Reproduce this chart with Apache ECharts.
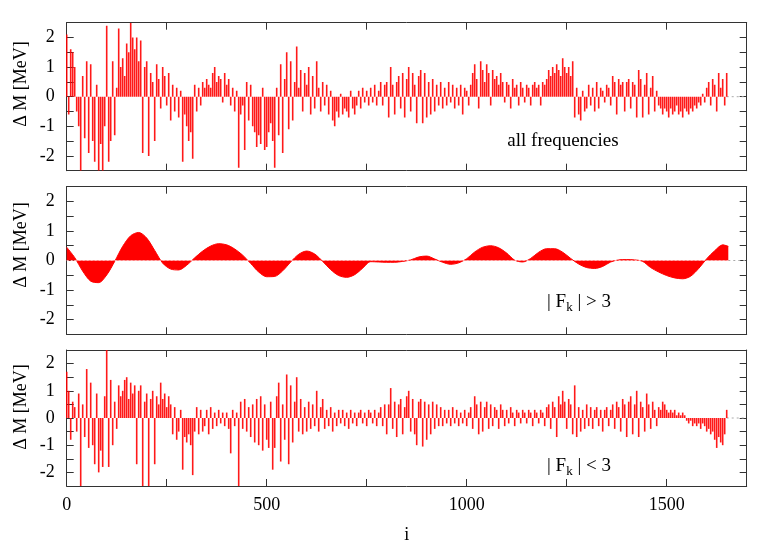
<!DOCTYPE html>
<html><head><meta charset="utf-8">
<script src="https://cdn.jsdelivr.net/npm/echarts@6/dist/echarts.min.js"></script>
<style>html,body{margin:0;padding:0;background:#fff}#c{width:780px;height:545px}</style>
</head><body><div id="c"></div>
<script>
// x index step for the impulse panels
const step = 5;
const xMin = 0, xMax = 1700;
const yMin = -2.5, yMax = 2.5;
const xTickLabels = [0, 500, 1000, 1500];
const yTickLabels = [-2, -1, 0, 1, 2];
const panelTexts = ['all frequencies', '| F{k|k} | > 3', '| F{k|k} | < 3'];
const yLabel = 'Δ M [MeV]';
const xLabel = 'i';

// all frequencies (i = 0,5,...,1650)
const allFreq = [
 2.1,-0.6,1.6,1.5,1.0,-0.5,-1.0,-2.5,0.7,-1.4,
 1.2,-1.9,1.1,-1.5,-2.2,0.4,-2.5,-1.6,-2.5,-1.0,
 2.4,-2.2,-1.5,1.2,-1.3,0.3,2.3,1.0,1.3,0.7,
 1.8,1.5,2.5,2.0,1.6,2.0,1.2,1.9,-1.9,1.0,
 1.2,-2.0,0.8,0.5,-1.5,1.1,0.6,-0.4,1.0,0.7,
 -0.3,0.8,-0.8,0.4,-0.5,0.3,-0.7,0.2,-2.2,-0.6,
 -1.0,-1.5,-1.2,-2.1,0.4,-0.5,0.3,-0.3,0.5,0.3,
 0.6,0.4,0.3,0.8,1.0,0.5,0.7,0.6,-0.2,0.8,
 0.4,0.6,-0.3,0.3,-0.5,0.2,-2.4,-0.6,-0.3,-1.8,
 0.5,-0.8,0.4,-1.0,-1.2,-1.7,-1.3,-1.6,0.3,-1.8,
 -1.7,-1.2,-0.9,-1.5,-2.4,0.3,-1.3,1.1,-1.9,0.6,
 1.5,-1.1,1.2,-0.8,0.5,1.7,0.3,0.9,-0.5,0.8,
 0.4,1.0,-0.6,0.7,-0.4,1.2,0.3,-0.5,0.5,-0.3,
 0.4,-0.6,0.2,-0.8,-1.0,-0.5,-0.7,0.1,-0.6,-0.4,
 -0.5,-0.7,0.2,-0.4,-0.6,-0.3,0.2,-0.4,0.3,-0.2,
 0.2,-0.3,0.3,-0.2,0.4,-0.3,0.2,0.5,-0.3,0.4,
 0.5,-0.7,1.0,0.4,-0.6,0.5,0.7,-0.4,0.8,-0.7,
 0.6,1.0,-0.5,0.8,0.4,-0.9,0.7,0.9,-0.9,0.8,
 -0.7,0.5,-0.6,0.6,-0.5,0.4,-0.3,0.5,-0.4,0.3,
 -0.3,0.5,-0.2,0.4,-0.4,0.3,-0.3,0.4,-0.6,0.3,
 0.2,-0.3,0.4,0.8,1.1,0.6,-0.4,1.2,0.9,0.5,
 1.1,0.8,-0.3,0.9,0.6,0.7,0.4,0.8,0.5,-0.2,
 0.5,0.4,-0.4,0.6,0.3,0.4,-0.3,0.5,0.3,-0.2,
 0.4,0.3,-0.3,0.4,0.5,0.3,0.4,-0.3,0.5,0.4,
 0.6,0.9,0.7,1.0,0.8,1.1,0.9,0.7,1.3,1.0,
 0.8,1.0,0.7,1.2,-0.7,0.3,-0.6,-0.8,0.2,-0.5,
 -0.4,0.4,-0.3,0.3,-0.5,0.5,-0.4,0.3,0.2,-0.2,
 0.4,0.3,-0.3,0.7,0.5,-0.6,0.6,0.4,0.5,-0.5,
 0.5,0.6,-0.4,0.5,0.4,-0.7,0.9,0.6,-0.7,0.4,
 0.8,-0.6,0.3,0.7,-0.5,0.2,-0.3,-0.4,-0.6,-0.4,
 -0.5,-0.7,-0.4,-0.6,-0.5,-0.3,-0.6,-0.5,-0.7,-0.4,
 -0.5,-0.6,-0.4,-0.5,-0.3,-0.4,-0.2,-0.3,0.1,-0.2,
 0.3,0.5,-0.3,0.6,0.4,-0.5,0.8,0.3,0.6,-0.3,
 0.8
];

// |F_k| < 3 (i = 0,5,...,1650)
const lowFreq = [
 1.7,1.0,-0.8,0.6,0.4,-0.5,0.9,-2.5,0.5,-0.7,
 1.8,-1.1,1.3,-1.0,-1.7,0.9,-2.0,-1.2,-1.8,0.8,
 2.5,-1.8,1.4,-1.0,0.6,-0.4,1.2,0.8,1.0,1.4,
 1.5,0.7,1.3,0.9,1.2,-1.7,1.0,1.2,-2.5,0.6,
 0.9,-2.5,0.7,1.0,-1.7,0.8,0.5,1.3,0.7,0.9,
 0.4,0.8,0.5,-0.6,0.4,-0.8,-0.5,0.3,-1.9,-0.7,
 -0.9,-0.6,-1.0,-2.1,-0.5,0.4,-0.6,0.3,-0.5,-0.3,
 0.3,-0.6,0.4,-0.4,0.2,-0.3,0.3,-0.2,0.2,-0.3,
 0.2,-0.4,-1.3,0.3,-0.3,0.2,-2.5,0.6,-0.4,0.7,
 -0.5,0.4,-0.7,0.5,-0.9,0.7,-1.0,0.8,-1.2,0.5,
 -0.8,-1.1,0.6,-1.9,-1.1,0.8,1.3,-1.6,0.5,-0.8,
 1.6,-1.7,1.2,-0.9,0.6,1.5,-0.5,0.7,-0.6,0.4,
 -0.5,0.6,-0.4,0.5,-0.3,1.0,-0.5,0.4,0.7,-0.4,
 0.3,-0.3,0.4,-0.5,0.2,-0.3,0.3,-0.2,0.3,-0.3,
 0.2,-0.4,0.3,-0.2,0.2,-0.3,0.2,0.3,-0.2,0.2,
 -0.3,0.3,0.2,-0.2,0.3,-0.3,0.2,0.4,-0.3,0.5,
 -0.6,0.5,1.1,-0.4,0.6,-0.7,0.5,0.7,-0.6,0.4,
 0.8,1.0,-0.5,0.7,-0.6,-1.0,0.6,0.7,-1.05,0.6,
 -0.8,0.5,-0.6,0.6,-0.4,0.5,-0.3,0.4,-0.3,0.3,
 -0.2,0.3,-0.3,0.4,-0.2,0.3,-0.3,0.2,-0.2,0.3,
 -0.3,0.2,0.4,-0.4,0.8,0.5,-0.6,0.6,-0.5,0.4,
 0.6,-0.4,0.5,-0.3,0.4,0.3,-0.4,0.5,0.3,-0.3,
 0.3,-0.2,0.4,0.2,-0.3,0.3,0.2,-0.2,0.3,0.2,
 -0.2,0.3,0.2,-0.3,0.3,0.2,-0.2,0.3,0.2,-0.3,
 0.4,0.5,-0.4,0.6,0.4,-0.7,0.8,0.5,1.0,0.6,
 -0.4,0.7,0.5,-0.6,1.2,-0.7,0.4,-0.5,0.3,-0.4,
 0.5,-0.3,0.4,-0.4,0.3,0.4,-0.3,0.3,-0.5,0.3,
 0.4,-0.3,0.3,0.5,-0.4,0.6,0.4,-0.5,0.7,0.5,
 -0.7,0.6,0.8,-0.6,0.5,1.0,-0.7,0.6,0.4,-0.5,
 0.9,0.5,-0.4,0.6,0.3,-0.3,0.4,0.3,0.6,0.5,
 0.3,0.2,0.3,0.2,0.3,0.1,0.2,0.1,0.2,0.1,
 -0.1,-0.2,-0.1,-0.3,-0.2,-0.3,-0.2,-0.4,-0.2,-0.3,
 -0.5,-0.4,-0.6,-0.5,-0.8,-1.1,-0.7,-0.9,-1.0,-0.6,
 0.3
];

// |F_k| > 3 smooth part (i = 0,20,...,1640) plus last point
const smoothStep = 20;
const highFreq = [
 0.45,0.10,-0.36,-0.70,-0.75,-0.49,-0.03,0.48,0.84,0.95,
 0.76,0.34,-0.09,-0.29,-0.32,-0.16,0.09,0.32,0.49,0.57,
 0.53,0.39,0.18,-0.10,-0.39,-0.55,-0.54,-0.35,-0.05,0.21,
 0.32,0.22,-0.03,-0.31,-0.51,-0.57,-0.48,-0.26,-0.04,-0.05,
 -0.06,-0.06,-0.03,0.02,0.12,0.15,0.05,-0.06,-0.13,-0.08,
 0.06,0.29,0.45,0.50,0.43,0.25,0.01,-0.05,0.07,0.28,
 0.40,0.40,0.28,0.07,-0.12,-0.24,-0.27,-0.20,-0.05,0.02,
 0.03,0.02,-0.03,-0.24,-0.39,-0.51,-0.59,-0.62,-0.53,-0.27,
 0.06,0.33,0.53
];
const highLast = [1654, 0.48];

const FONT = '"Liberation Serif", "Times New Roman", serif';
const RED = '#ff0000';

const impulse = a => a.map((v, k) => [k * step, v]);
const smooth = highFreq.map((v, k) => [k * smoothStep, v]).concat([highLast]);
const lastAll = (allFreq.length - 1) * step;

const grids = [
  {left: 66.7, top: 22.7, width: 680, height: 148},
  {left: 66.7, top: 186.7, width: 680, height: 147.6},
  {left: 66.7, top: 350, width: 680, height: 136.7}
];

const xAxes = [], yAxes = [];
grids.forEach((g, gi) => {
  const bottomShowLabels = gi === 2;
  ['bottom', 'top'].forEach(pos => {
    xAxes.push({
      type: 'value', gridIndex: gi, position: pos, min: xMin, max: xMax, interval: 250,
      splitLine: {show: false},
      axisLine: {show: true, onZero: false, lineStyle: {color: '#333', width: 1}},
      axisTick: {show: true, inside: true, length: 7, lineStyle: {color: '#333'}},
      axisLabel: {
        show: bottomShowLabels && pos === 'bottom', margin: 10,
        fontFamily: FONT, fontSize: 18, color: '#000',
        formatter: v => xTickLabels.includes(v) ? String(v) : ''
      },
      name: (bottomShowLabels && pos === 'bottom') ? xLabel : '',
      nameLocation: 'middle', nameGap: 40,
      nameTextStyle: {fontFamily: FONT, fontSize: 18, color: '#000'}
    });
  });
  ['left', 'right'].forEach(pos => {
    yAxes.push({
      type: 'value', gridIndex: gi, position: pos, min: yMin, max: yMax, interval: 0.5,
      splitLine: {show: false},
      axisLine: {show: true, onZero: false, lineStyle: {color: '#333', width: 1}},
      axisTick: {show: true, inside: true, length: 7, lineStyle: {color: '#333'}},
      axisLabel: {
        show: pos === 'left', margin: 12,
        fontFamily: FONT, fontSize: 18, color: '#000',
        formatter: v => yTickLabels.includes(v) ? String(v) : ''
      }
    });
  });
});

const zeroTail = (gi) => ({
  type: 'line', xAxisIndex: gi * 2, yAxisIndex: gi * 2, symbol: 'none', silent: true,
  data: [[gi === 1 ? highLast[0] : lastAll, 0], [xMax, 0]],
  lineStyle: {color: '#aaa', width: 1, type: [2, 3]}, z: 1
});

// impulses drawn as thin vertical lines through the axes' own coordinate mapping
const impulseSeries = (gi, arr) => ({
  type: 'custom', xAxisIndex: gi * 2, yAxisIndex: gi * 2, silent: true, clip: true,
  data: impulse(arr),
  renderItem: (params, api) => {
    const p0 = api.coord([api.value(0), 0]);
    const p1 = api.coord([api.value(0), api.value(1)]);
    return {
      type: 'line',
      shape: {x1: p0[0], y1: p0[1], x2: p1[0], y2: p1[1]},
      style: {stroke: RED, lineWidth: 1.6, opacity: 0.9}
    };
  }
});

const series = [
  impulseSeries(0, allFreq),
  {type: 'line', xAxisIndex: 2, yAxisIndex: 2, data: smooth, smooth: 0.3, symbol: 'none',
   lineStyle: {color: RED, width: 1}, areaStyle: {color: RED, opacity: 1, origin: 0},
   silent: true, animation: false},
  {type: 'line', xAxisIndex: 2, yAxisIndex: 2, symbol: 'none', silent: true,
   data: [[xMin, 0], [highLast[0], 0]], lineStyle: {color: '#ffb0b0', width: 1, type: [2, 2]}, z: 3},
  impulseSeries(2, lowFreq),
  zeroTail(0), zeroTail(1), zeroTail(2)
];

const textStyleBase = {font: '19px ' + FONT, fill: '#000', align: 'center', verticalAlign: 'middle'};
const rich = {k: {fontSize: 13, fontFamily: FONT, padding: [12, 0, 0, 0]}};
const yLabelCenters = [84, 245, 407];
const graphic = [];
yLabelCenters.forEach(cy => {
  graphic.push({type: 'text', x: 21, y: cy, rotation: Math.PI / 2,
    style: Object.assign({}, textStyleBase, {text: yLabel, font: '18px ' + FONT})});
});
graphic.push({type: 'text', x: 563, y: 141, style: Object.assign({}, textStyleBase, {text: panelTexts[0]})});
graphic.push({type: 'text', x: 579, y: 302, style: Object.assign({}, textStyleBase, {text: panelTexts[1], rich: rich})});
graphic.push({type: 'text', x: 579, y: 466, style: Object.assign({}, textStyleBase, {text: panelTexts[2], rich: rich})});

const chart = echarts.init(document.getElementById('c'), null, {renderer: 'canvas'});
chart.setOption({
  animation: false,
  backgroundColor: '#fff',
  grid: grids,
  xAxis: xAxes,
  yAxis: yAxes,
  series: series,
  graphic: graphic
});
</script></body></html>
